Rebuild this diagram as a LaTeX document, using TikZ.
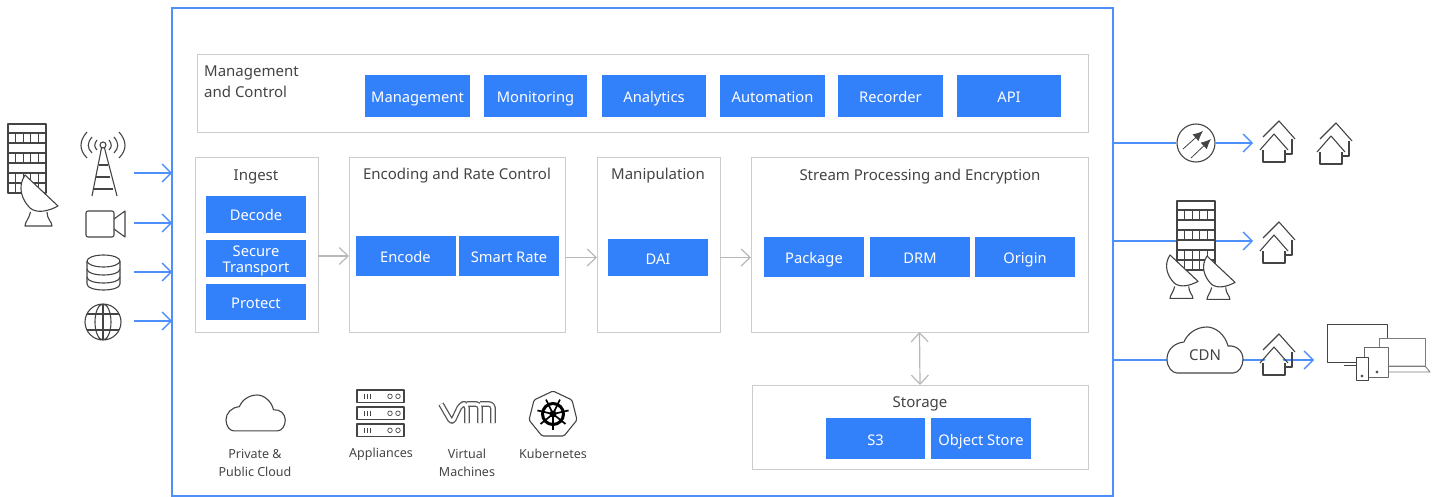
\documentclass[tikz,border=0pt]{standalone}
\usepackage{fontspec}
\setmainfont{Noto Sans}
\usepackage{tikz}
\usetikzlibrary{arrows.meta}
\definecolor{boxblue}{HTML}{3380FB}
\definecolor{lineblue}{HTML}{4D90FC}
\definecolor{panelgrey}{HTML}{CCCCCC}
\definecolor{icongrey}{HTML}{444444}
\definecolor{textgrey}{HTML}{444444}
\begin{document}
\begin{tikzpicture}[%
            x=1pt,
            y=-1pt,
            panel/.style={
                draw=panelgrey,
                line width=1pt,
                inner sep=0pt,
                outer sep=0pt,
            },
            bluebox/.style={
                fill=boxblue,
                text=white,
                font=\fontsize{14.7}{15}\selectfont,
                align=center,
                inner sep=0pt,
                outer sep=0pt,
                text height=13pt,
                text depth=0pt,
                minimum width=100pt,
                minimum height=40pt,
            },
            title/.style={
                text=textgrey,
                font=\fontsize{15}{21}\selectfont,
                align=center,
                inner sep=0pt,
                text height=11pt,
                text depth=0pt,
            },
            caption/.style={
                text=textgrey,
                font=\fontsize{12.5}{18}\selectfont,
                align=center,
                inner sep=0pt,
            },
            blueline/.style={
                draw=lineblue,
                line width=1.3pt,
            },
            bluearrow/.style={
                blueline,
                -{Straight Barb[length=9pt,width=18pt,line width=1.3pt]},
            },
            greyarrow/.style={
                draw=panelgrey!90!black,
                line width=1.2pt,
                -{Straight Barb[length=9pt,width=17pt,line width=1.2pt]},
            },
            icon/.style={
                draw=icongrey,
                line width=1.1pt,
                line join=round,
            },
            house/.pic={
                \draw[icon] (-16,16) -- (0,0) -- (16,18);
                \draw[icon] (13,18) -- (13,33) -- (5,33);
                \fill[white] (-16,29) -- (-5,13) -- (6,29) -- (6,41) -- (-16,41) -- cycle;
                \draw[icon] (-19,29) -- (-5,13) -- (9,29);
                \draw[icon] (-16,29) -- (-16,41) -- (6,41) -- (6,29);
            },
            dish/.pic={
                \draw[icon,fill=white] (5.5,37) .. controls (4,44) and (0,47) .. (0,51) -- (27,51) .. controls (27,47) and (22,44) .. (22,37);
                \draw[icon,fill=white] (0,0) -- (33,31) .. controls (24,36) and (12,39) .. (5,33) .. controls (-3,25) and (-8,12) .. (0,0) -- cycle;
            },
            tower block/.pic={
                \fill[white] (0,0) rectangle (38,69);
                \draw[icon] (0,0) rectangle (38,69);
                \foreach \rowy in {9,29,49} {
                    \draw[icon] (0,\rowy) -- (38,\rowy) (0,\rowy+10) -- (38,\rowy+10);
                    \foreach \colx in {7.6,15.2,22.8,30.4} {
                        \draw[icon,line width=1pt] (\colx,\rowy) -- (\colx,\rowy+10);
                    }
                }
                \foreach \colx in {7.6,15.2,22.8,30.4} {
                    \draw[icon,line width=1pt] (\colx,59) -- (\colx,69);
                }
            },
            cloud shape/.pic={
                \draw[icon,fill=white] (10,46) -- (66,46) .. controls (72,46) and (76,39) .. (76,32)
                    .. controls (76,24) and (69,18) .. (61,19) .. controls (58,7) and (48,0) .. (40,0)
                    .. controls (29,0) and (20,7) .. (17,15) .. controls (7,16) and (0,23) .. (0,32)
                    .. controls (0,40) and (5,46) .. (10,46) -- cycle;
            },
            rack/.pic={
                \draw[icon] (0,0) rectangle (47,12.5);
                \foreach \barx in {7,10,13} {
                    \draw[icon,line width=.7pt] (\barx,4) -- (\barx,9);
                }
                \draw[icon,line width=.7pt] (33,6.3) circle (2.3) (41,6.3) circle (2.3);
            },
        ]
        \node[draw=lineblue,line width=2pt,inner sep=0pt,outer sep=0pt,minimum width=941pt,minimum height=488pt] (platform) at (642.5,252) {};

        \node[panel,minimum width=891pt,minimum height=78pt] (control) at (642.5,94) {};
        \node[title,align=left,anchor=north west,text height=,text depth=] (controllabel) at (204,66) {Management\\and Control};
        \node[bluebox,minimum width=105pt,minimum height=42pt] (management) at (417.5,96) {Management};
        \node[bluebox,minimum width=103pt,minimum height=42pt] (monitoring) at (535.5,96) {Monitoring};
        \node[bluebox,minimum width=104pt,minimum height=42pt] (analytics) at (654,96) {Analytics};
        \node[bluebox,minimum width=105pt,minimum height=42pt] (automation) at (772.5,96) {Automation};
        \node[bluebox,minimum width=105pt,minimum height=42pt] (recorder) at (890.5,96) {Recorder};
        \node[bluebox,minimum width=104pt,minimum height=42pt] (api) at (1009,96) {API};

        \node[panel,minimum width=123pt,minimum height=174pt] (ingest) at (256.5,245) {};
        \node[title] (ingestlabel) at (256,175) {Ingest};
        \node[bluebox,minimum height=37pt] (decode) at (256,214.5) {Decode};
        \node[bluebox,minimum height=37pt,font=\fontsize{14.7}{16}\selectfont,text height=,text depth=] (transport) at (256,258.5) {\rule{0pt}{15pt}Secure\\Transport};
        \node[bluebox,minimum height=36pt] (protect) at (256,302) {Protect};

        \node[panel,minimum width=216pt,minimum height=174pt] (encoding) at (457,245) {};
        \node[title] (encodinglabel) at (457,174) {Encoding and Rate Control};
        \node[bluebox] (encode) at (405.5,256) {Encode};
        \node[bluebox] (smartrate) at (509,256) {Smart Rate};

        \node[panel,minimum width=123pt,minimum height=174pt] (manipulation) at (658.5,245) {};
        \node[title] (manipulationlabel) at (658,174) {Manipulation};
        \node[bluebox,minimum height=37pt] (dai) at (658,257.5) {DAI};

        \node[panel,minimum width=337pt,minimum height=174pt] (stream) at (919.5,245) {};
        \node[title] (streamlabel) at (920,175) {Stream Processing and Encryption};
        \node[bluebox] (package) at (814,257) {Package};
        \node[bluebox] (drm) at (920,257) {DRM};
        \node[bluebox] (origin) at (1025,257) {Origin};

        \node[panel,minimum width=336pt,minimum height=84pt] (storage) at (920,427) {};
        \node[title] (storagelabel) at (920,402) {Storage};
        \node[bluebox,minimum width=99pt,minimum height=41pt] (sthree) at (875.5,438.5) {S3};
        \node[bluebox,minimum height=41pt] (objectstore) at (981,438.5) {Object Store};

        \draw[greyarrow] (ingest.east |- encode) -- (encoding.west |- encode);
        \draw[greyarrow] (encoding.east |- dai) -- (manipulation.west |- dai);
        \draw[greyarrow] (manipulation.east |- dai) -- (stream.west |- dai);
        \draw[greyarrow,{Straight Barb[length=9pt,width=17pt,line width=1.2pt]}-{Straight Barb[length=9pt,width=17pt,line width=1.2pt]}] (stream.south) -- (storage.north);

        \foreach \y [count=\i] in {173,223,272,321} {
            \coordinate (source\i) at (134,\y);
            \draw[bluearrow] (source\i) -- (platform.west |- source\i);
        }

        \pic at (8,124) {tower block};
        \pic at (25,175) {dish};

        \draw[icon] (87,132) .. controls (79,141) and (79,150) .. (87,158)
            (92,137) .. controls (87,143) and (87,148) .. (92,153)
            (97,140) .. controls (94,144) and (94,147) .. (97,150)
            (119,132) .. controls (127,141) and (127,150) .. (119,158)
            (114,137) .. controls (119,143) and (119,148) .. (114,153)
            (109,140) .. controls (112,144) and (112,147) .. (109,150);
        \draw[icon] (103,145) circle (3);
        \draw[icon] (101.5,148) -- (92,196) (104.5,148) -- (117,196);
        \draw[icon] (98.5,165) -- (107.5,165) (96,177) -- (110,177) (93.5,189) -- (112.5,189);

        \draw[icon,rounded corners=2pt] (86,211) rectangle (114,237);
        \draw[icon] (114,219) -- (125,211) -- (125,237) -- (114,229);

        \draw[icon] (103.5,261) ellipse (16.5 and 6);
        \draw[icon] (87,261) -- (87,284) .. controls (87,292) and (120,292) .. (120,284) -- (120,261);
        \draw[icon] (87,269) .. controls (87,277) and (120,277) .. (120,269);
        \draw[icon] (87,277) .. controls (87,285) and (120,285) .. (120,277);

        \draw[icon] (103,322) circle (18) (103,322) ellipse (8 and 18);
        \draw[icon] (103,304) -- (103,340) (87,314) -- (119,314) (87,330) -- (119,330);

        \node[draw=icongrey,line width=1.1pt,circle,inner sep=0pt,minimum size=38pt] (splitter) at (1196,143) {};
        \draw[icon,line width=.8pt,-{Latex[length=10pt,width=9pt]}] (1183,149) -- (1203,131);
        \draw[icon,line width=.8pt,-{Latex[length=10pt,width=9pt]}] (1191,158) -- (1211,139);
        \coordinate (splitterend) at (1253,143);
        \draw[blueline] (platform.east |- splitter) -- (splitter);
        \draw[bluearrow] (splitter) -- (splitterend);
        \pic at (1279,121) {house};
        \pic at (1336,123) {house};

        \coordinate (headendin) at (1177,241);
        \coordinate (headendout) at (1216,241);
        \coordinate (headendend) at (1253,241);
        \draw[blueline] (platform.east |- headendin) -- (headendin);
        \draw[bluearrow] (headendout) -- (headendend);
        \pic at (1177,201) {tower block};
        \pic[scale=.85] at (1170,255) {dish};
        \pic[scale=.85] at (1207,256) {dish};
        \pic at (1279,222) {house};

        \coordinate (cdnin) at (1167,360);
        \coordinate (cdnout) at (1243,360);
        \coordinate (cdnend) at (1314,360);
        \draw[blueline] (platform.east |- cdnin) -- (cdnin);
        \draw[bluearrow] (cdnout) -- (cdnend);
        \pic at (1167,327) {cloud shape};
        \node[text=textgrey,font=\fontsize{15}{15}\selectfont,inner sep=0pt] (cdn) at (1205,355) {CDN};
        \pic at (1279,334) {house};

        \draw[icon,line width=.9pt] (1327,324) rectangle (1387,362);
        \draw[icon,line width=.9pt] (1344,365) -- (1356,365);
        \draw[icon,line width=.9pt,draw=icongrey!70,fill=white] (1379,338) rectangle (1425,366);
        \draw[icon,line width=.9pt,draw=icongrey!70] (1388,366) -- (1425,366) -- (1430,372) -- (1388,372);
        \draw[icon,line width=.9pt,draw=icongrey!80,fill=white] (1364,347) rectangle (1388,377);
        \draw[icon,line width=.9pt,fill=white] (1356,357) rectangle (1368,380);
        \draw[icon,line width=.7pt] (1362,376) circle (1.2) (1377,372) circle (1.2);

        \pic[scale=.78] at (226,395) {cloud shape};
        \node[caption] (cloudlabel) at (255,463) {Private \&\\Public Cloud};

        \pic at (357,390) {rack};
        \pic at (357,407) {rack};
        \pic at (357,424) {rack};
        \node[caption] (applianceslabel) at (381,454) {Appliances};

        \draw[draw=icongrey!90,line width=1.3pt,double=white,double distance=3.2pt,line join=round,rounded corners=4pt]
            (441,404) -- (452,423) -- (461,404) -- (467,404) -- (467,423)
            (467,404) -- (480,404) -- (480,423)
            (480,404) -- (493,404) -- (493,423);
        \node[caption] (vmlabel) at (467,463) {Virtual\\Machines};

        \draw[icon,rounded corners=1.5pt] (553,391) -- (572,400) -- (577,420) -- (564,436) -- (542,436) -- (529,420) -- (534,400) -- cycle;
        \draw[black,line width=3pt] (553,414) circle (10.5);
        \foreach \a in {90,141.4,192.9,244.3,295.7,347.1,398.6} {
            \draw[black,line width=1.7pt] (553,414) -- ++(\a:16);
        }
        \fill[black] (553,414) circle (3.5);
        \node[caption] (kuberneteslabel) at (553,454) {Kubernetes};

        \useasboundingbox (0,0) rectangle (1440,497);
    \end{tikzpicture}
\end{document}
